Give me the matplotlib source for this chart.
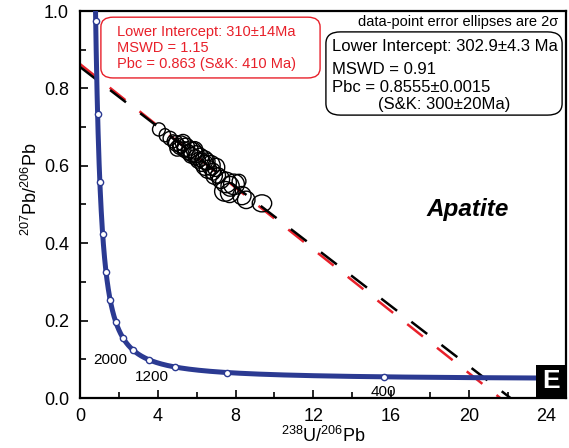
import numpy as np
import matplotlib

matplotlib.use("Agg")
import matplotlib.pyplot as plt
from matplotlib.patches import Ellipse, FancyBboxPatch, Rectangle

plt.rcParams["font.family"] = ["Liberation Sans", "DejaVu Sans"]
plt.rcParams["mathtext.fontset"] = "custom"
plt.rcParams["mathtext.rm"] = "Liberation Sans"
plt.rcParams["mathtext.default"] = "regular"

# decay constants (1/yr) and present-day 238U/235U
L238 = 1.55125e-10
L235 = 9.8485e-10
U_RATIO = 137.88

# concordia age markers (Ma) and the labelled ones
marker_ages = [400, 800, 1200, 1600, 2000, 2400, 2800, 3200, 3600, 4000, 4400, 4800, 5200]
age_labels = ["2000", "1200", "400"]
age_label_x = [1.54, 3.70, 15.6]
age_label_y = [0.098, 0.054, 0.016]

# data-point error ellipses (centre, full width, full height)
ell_x = [4.06, 4.37, 4.63, 4.78, 4.94, 5.09, 5.20, 5.35, 5.45, 5.56, 5.66, 5.71,
         5.81, 5.92, 5.97, 6.07, 6.17, 6.28, 6.43, 6.53, 6.58, 6.74, 6.84, 7.00,
         7.10, 7.25, 7.51, 7.72, 7.92, 7.46, 8.33, 9.36, 8.18, 5.30, 5.90, 6.40,
         5.00, 6.90, 7.70, 8.55]
ell_y = [0.694, 0.679, 0.671, 0.663, 0.658, 0.650, 0.655, 0.642, 0.648, 0.635,
         0.642, 0.627, 0.635, 0.622, 0.630, 0.614, 0.622, 0.609, 0.601, 0.611,
         0.591, 0.601, 0.585, 0.596, 0.575, 0.565, 0.557, 0.547, 0.552, 0.534,
         0.523, 0.503, 0.560, 0.660, 0.640, 0.615, 0.645, 0.575, 0.530, 0.512]
ell_w = [0.66, 0.59, 0.71, 0.59, 0.77, 0.66, 0.83, 0.71, 0.89, 0.71, 0.83, 0.77,
         0.94, 0.71, 0.83, 0.77, 0.89, 0.83, 0.94, 0.83, 0.89, 0.94, 0.77, 0.89,
         0.77, 0.89, 1.07, 0.94, 1.07, 1.07, 0.94, 1.00, 0.71, 0.80, 0.85, 0.90,
         0.75, 0.85, 0.95, 0.90]
ell_h = [0.034, 0.034, 0.036, 0.034, 0.040, 0.040, 0.044, 0.040, 0.047, 0.040,
         0.044, 0.040, 0.051, 0.040, 0.044, 0.040, 0.047, 0.047, 0.051, 0.044,
         0.047, 0.051, 0.044, 0.047, 0.040, 0.047, 0.053, 0.051, 0.053, 0.051,
         0.047, 0.044, 0.036, 0.042, 0.045, 0.048, 0.040, 0.045, 0.050, 0.045]

# discordia fits: common-Pb intercept and lower intercept age (Ma)
fit_pbc = [0.863, 0.8555]
fit_age = [310.0, 302.9]
fit_color = ["#e8202a", "black"]

red_lines = ["Lower Intercept: 310\u00b114Ma", "MSWD = 1.15", "Pbc = 0.863 (S&K: 410 Ma)"]
black_lines = ["Lower Intercept: 302.9\u00b14.3 Ma", "MSWD = 0.91",
               "Pbc = 0.8555\u00b10.0015", "(S&K: 300\u00b120Ma)"]

BLUE = "#2b3a92"


def tera_wasserburg(age_ma):
    t = np.asarray(age_ma, dtype=float) * 1e6
    e238 = np.exp(L238 * t) - 1.0
    e235 = np.exp(L235 * t) - 1.0
    return 1.0 / e238, e235 / (U_RATIO * e238)


fig = plt.figure(figsize=(5.69, 4.48), dpi=100)
ax = fig.add_axes([80 / 569, 50 / 448, 486 / 569, 387 / 448])
ax.set_xlim(0, 25)
ax.set_ylim(0, 1.0)

# discordia lines
for pbc, age, col in zip(fit_pbc, fit_age, fit_color):
    xc, yc = tera_wasserburg(age)
    slope = (yc - pbc) / xc
    x_end = -pbc / slope
    ax.plot([0, x_end], [pbc, 0], color=col, lw=1.8, dashes=(8, 7.2), zorder=2)

# concordia
t_curve = np.geomspace(240, 6500, 1000)
cx, cy = tera_wasserburg(t_curve)
ax.plot(cx, cy, color=BLUE, lw=3.6, zorder=4, solid_capstyle="butt")
mx, my = tera_wasserburg(marker_ages)
ax.plot(mx, my, "o", ms=4.5, mfc="white", mec=BLUE, mew=1.0, zorder=5)
for lab, lx, ly in zip(age_labels, age_label_x, age_label_y):
    ax.text(lx, ly, lab, fontsize=11, ha="center", va="center", zorder=6)

# error ellipses
for x, y, w, h in zip(ell_x, ell_y, ell_w, ell_h):
    ax.add_patch(Ellipse((x, y), w, h, fill=False, ec="black", lw=1.0, zorder=3))

# annotation boxes
ax.add_patch(FancyBboxPatch((0.043, 0.827), 0.451, 0.157,
                            boxstyle="round,pad=0,rounding_size=0.025",
                            transform=ax.transAxes, fc="white", ec="#e8202a",
                            lw=1.0, zorder=6))
for i, line in enumerate(red_lines):
    ax.text(0.076, 0.945 - i * 0.041, line, transform=ax.transAxes, color="#e8202a",
            fontsize=10.5, va="center", ha="left", zorder=7)

ax.add_patch(FancyBboxPatch((0.506, 0.731), 0.486, 0.215,
                            boxstyle="round,pad=0,rounding_size=0.03",
                            transform=ax.transAxes, fc="white", ec="black",
                            lw=1.0, zorder=6))
black_y = [0.909, 0.848, 0.802, 0.758]
for i, (line, yy) in enumerate(zip(black_lines, black_y)):
    ax.text(0.518 if i < 3 else 0.75, yy, line, transform=ax.transAxes,
            fontsize=12, va="center", ha="left" if i < 3 else "center", zorder=7)

ax.text(0.985, 0.972, "data-point error ellipses are 2\u03c3", transform=ax.transAxes,
        fontsize=10.5, ha="right", va="center", zorder=7)
ax.text(0.797, 0.488, "Apatite", transform=ax.transAxes, fontsize=17.5,
        fontweight="bold", fontstyle="italic", ha="center", va="center")

# panel letter
ax.add_patch(Rectangle((0.938, 0.0), 0.062, 0.085, transform=ax.transAxes,
                       fc="black", ec="none", zorder=8, clip_on=False))
ax.text(0.969, 0.043, "E", transform=ax.transAxes, color="white", fontsize=19,
        fontweight="bold", ha="center", va="center", zorder=9)

# axes styling
ax.set_xticks(np.arange(0, 25, 4))
ax.set_xticks(np.arange(2, 25, 4), minor=True)
ax.set_yticks(np.arange(0, 1.01, 0.2))
ax.set_yticks(np.arange(0.1, 1.0, 0.2), minor=True)
ax.set_yticklabels([f"{v:.1f}" for v in np.arange(0, 1.01, 0.2)])
ax.tick_params(which="both", direction="in", labelsize=13, width=1.2)
ax.tick_params(which="major", length=6)
ax.tick_params(which="minor", length=4)
ax.tick_params(axis="x", pad=7)
ax.tick_params(axis="y", pad=8)
for sp in ax.spines.values():
    sp.set_linewidth(1.6)

ax.set_xlabel(r"$^{238}$U/$^{206}$Pb", fontsize=13, labelpad=1)
ax.set_ylabel(r"$^{207}$Pb/$^{206}$Pb", fontsize=13)
ax.yaxis.set_label_coords(-0.08, 0.54)

fig.savefig("out.png", dpi=100)
